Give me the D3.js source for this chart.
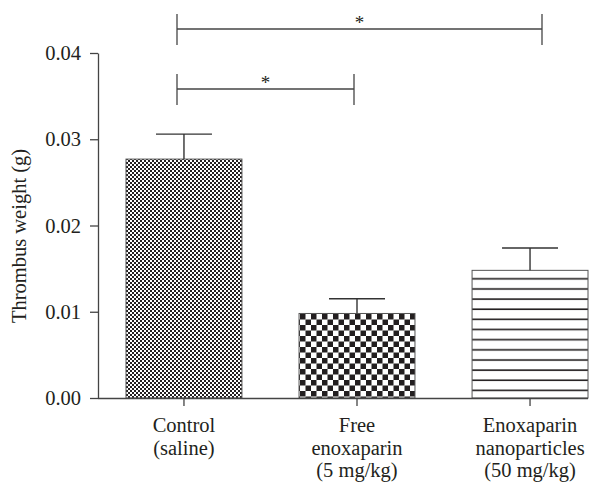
<!DOCTYPE html>
<html>
<head>
<meta charset="utf-8">
<script src="https://cdn.jsdelivr.net/npm/d3@7"></script>
<style>
  body { margin: 0; background: #fff; }
  text { font-family: "Liberation Serif", serif; fill: #231f20; }
</style>
</head>
<body>
<svg id="chart" width="616" height="485"></svg>
<script>
// values
const categories = ["Control", "Free", "Enox"];
const catLabels = [
  ["Control", "(saline)"],
  ["Free", "enoxaparin", "(5 mg/kg)"],
  ["Enoxaparin", "nanoparticles", "(50 mg/kg)"]
];
const means = [0.0277, 0.0098, 0.0148];
const errors = [0.0029, 0.0017, 0.0026];
const yTicks = [0, 0.01, 0.02, 0.03, 0.04];
const patterns = ["fineCheck", "coarseCheck", "hLines"];
// significance brackets: [from index, to index, level]
const brackets = [[0, 2, 0], [0, 1, 1]];

const svg = d3.select("#chart");
const ink = "#231f20";
const fs = 20.5;

const y = d3.scaleLinear().domain([0, 0.04]).range([398, 53]);
const x = d3.scaleBand().domain(categories).range([126, 588]).paddingInner(0.33).paddingOuter(0);

// patterns
let defs = svg.append("defs");
let p1 = defs.append("pattern").attr("id", "fineCheck").attr("patternUnits", "userSpaceOnUse")
  .attr("width", 4).attr("height", 4);
p1.append("rect").attr("width", 4).attr("height", 4).attr("fill", "#fff");
p1.append("rect").attr("width", 2).attr("height", 2).attr("fill", ink);
p1.append("rect").attr("x", 2).attr("y", 2).attr("width", 2).attr("height", 2).attr("fill", ink);

let p2 = defs.append("pattern").attr("id", "coarseCheck").attr("patternUnits", "userSpaceOnUse")
  .attr("width", 11).attr("height", 11).attr("x", 300).attr("y", 314);
p2.append("rect").attr("width", 11).attr("height", 11).attr("fill", "#fff");
p2.append("rect").attr("width", 5.5).attr("height", 5.5).attr("fill", ink);
p2.append("rect").attr("x", 5.5).attr("y", 5.5).attr("width", 5.5).attr("height", 5.5).attr("fill", ink);

let p3 = defs.append("pattern").attr("id", "hLines").attr("patternUnits", "userSpaceOnUse")
  .attr("width", 10).attr("height", 10.15).attr("y", 274);
p3.append("rect").attr("width", 10).attr("height", 10.15).attr("fill", "#fff");
p3.append("rect").attr("y", 4).attr("width", 10).attr("height", 1.6).attr("fill", ink);

// bars
svg.selectAll("rect.bar").data(means).join("rect")
  .attr("class", "bar")
  .attr("x", (d, i) => x(categories[i]))
  .attr("y", d => y(d))
  .attr("width", x.bandwidth())
  .attr("height", d => y(0) - y(d))
  .attr("fill", (d, i) => "url(#" + patterns[i] + ")")
  .attr("stroke", "#555")
  .attr("stroke-width", 1);

// error bars
const capHalf = 28;
let eb = svg.selectAll("g.err").data(means).join("g").attr("class", "err")
  .attr("stroke", "#333").attr("stroke-width", 1.4);
eb.append("line")
  .attr("x1", (d, i) => x(categories[i]) + x.bandwidth() / 2)
  .attr("x2", (d, i) => x(categories[i]) + x.bandwidth() / 2)
  .attr("y1", d => y(d))
  .attr("y2", (d, i) => y(d + errors[i]));
eb.append("line")
  .attr("x1", (d, i) => x(categories[i]) + x.bandwidth() / 2 - capHalf)
  .attr("x2", (d, i) => x(categories[i]) + x.bandwidth() / 2 + capHalf)
  .attr("y1", (d, i) => y(d + errors[i]))
  .attr("y2", (d, i) => y(d + errors[i]));

// y axis
let yAxis = svg.append("g").attr("transform", "translate(98,0)")
  .call(d3.axisLeft(y).tickValues(yTicks).tickFormat(d3.format(".2f")).tickSize(8).tickSizeOuter(0));
yAxis.select(".domain").attr("stroke", "#444").attr("stroke-width", 1.3);
yAxis.selectAll(".tick line").attr("stroke", "#444").attr("stroke-width", 1.3);
yAxis.selectAll(".tick text").attr("x", -17).attr("font-size", fs).attr("fill", ink);

// x axis
let xAxis = svg.append("g").attr("transform", "translate(0,398)")
  .call(d3.axisBottom(x).tickSize(8).tickSizeOuter(0).tickFormat(""));
xAxis.select(".domain").attr("d", "M98,0.5H588").attr("stroke", "#444").attr("stroke-width", 1.3);
xAxis.selectAll(".tick line").attr("stroke", "#444").attr("stroke-width", 1.3);

// category labels
categories.forEach((c, i) => {
  let t = svg.append("text")
    .attr("x", x(c) + x.bandwidth() / 2)
    .attr("y", 432)
    .attr("text-anchor", "middle")
    .attr("font-size", fs);
  catLabels[i].forEach((s, j) => {
    t.append("tspan").attr("x", x(c) + x.bandwidth() / 2).attr("dy", j === 0 ? 0 : 22.5).text(s);
  });
});

// y title
svg.append("text")
  .attr("transform", "translate(26,236) rotate(-90)")
  .attr("text-anchor", "middle")
  .attr("font-size", fs)
  .text("Thrombus weight (g)");

// significance brackets
const bx = [177, 354, 542];
const by = [29, 89];
brackets.forEach(b => {
  let x1 = bx[b[0]], x2 = bx[b[1]], yy = by[b[2]];
  let g = svg.append("g").attr("stroke", "#444").attr("stroke-width", 1.3);
  g.append("line").attr("x1", x1).attr("x2", x2).attr("y1", yy).attr("y2", yy);
  g.append("line").attr("x1", x1).attr("x2", x1).attr("y1", yy - 15).attr("y2", yy + 16);
  g.append("line").attr("x1", x2).attr("x2", x2).attr("y1", yy - 15).attr("y2", yy + 16);
  svg.append("text")
    .attr("x", (x1 + x2) / 2)
    .attr("y", yy)
    .attr("text-anchor", "middle")
    .attr("font-size", 19)
    .text("*");
});
</script>
</body>
</html>
